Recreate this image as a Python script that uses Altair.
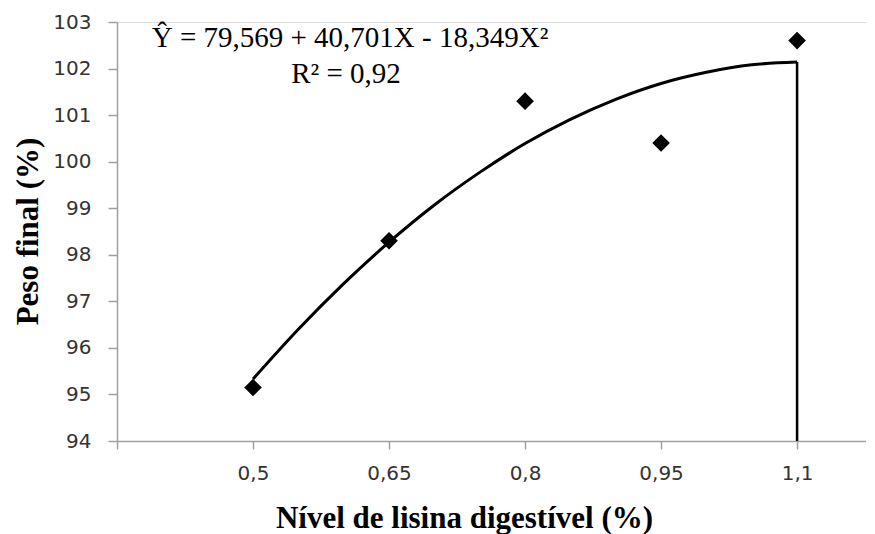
import altair as alt
import pandas as pd

# observed points
lys = [0.5, 0.65, 0.8, 0.95, 1.1]
peso = [95.15, 98.3, 101.3, 100.4, 102.6]

# fitted curve
curve_x = [0.5, 0.55, 0.6, 0.65, 0.7, 0.75, 0.8, 0.85, 0.9, 0.95, 1.0, 1.05, 1.1]
curve_y = [95.33, 96.40, 97.38, 98.27, 99.07, 99.77, 100.39, 100.91, 101.34, 101.68, 101.92, 102.08, 102.14]

# vertical drop line at the maximum
drop_x = [1.1]
drop_y0 = [94.0]
drop_y1 = [102.14]

x_ticks = [0.35, 0.5, 0.65, 0.8, 0.95, 1.1]
y_ticks = [94, 95, 96, 97, 98, 99, 100, 101, 102, 103]

eq_line1 = "Ŷ = 79,569  + 40,701X  - 18,349X²"
eq_line2 = "R² = 0,92"

pts = pd.DataFrame({"x": lys, "y": peso})
cur = pd.DataFrame({"x": curve_x, "y": curve_y})
drop = pd.DataFrame({"x": drop_x, "y": drop_y0, "y2": drop_y1})

AX = "#A0A0A0"
LBL = "#333333"
LFONT = "DejaVu Sans"

xs = alt.Scale(domain=[0.35, 1.176], nice=False, zero=False)
ys = alt.Scale(domain=[94, 103], nice=False, zero=False)

xaxis = alt.Axis(
    values=x_ticks, format=".2~f",
    labelExpr="datum.value < 0.4 ? '' : replace(datum.label, '.', ',')",
    grid=False, domainColor=AX, domainWidth=1.5, tickColor=AX, tickWidth=1.5,
    tickSize=8, labelFont=LFONT, labelFontSize=20, labelColor=LBL,
    labelPadding=14, labelFlush=False,
    title="Nível de lisina digestível (%)", titleFont="Liberation Serif",
    titleFontSize=31, titleFontWeight="bold", titleColor="black",
    titleX=347, titleY=86, titleAlign="center", titleBaseline="alphabetic",
    titleAnchor="start",
)
yaxis = alt.Axis(
    values=y_ticks, format="d",
    grid=False, domainColor=AX, domainWidth=1.5, tickColor=AX, tickWidth=1.5,
    tickSize=9, labelFont=LFONT, labelFontSize=20, labelColor=LBL,
    labelPadding=17, labelFlush=False,
    title="Peso final (%)", titleFont="Liberation Serif",
    titleFontSize=31, titleFontWeight="bold", titleColor="black",
    titleAngle=270, titleX=-80, titleY=209, titleAlign="center",
    titleBaseline="alphabetic", titleAnchor="start",
)

line = alt.Chart(cur).mark_line(color="black", strokeWidth=3,
                                interpolate="monotone").encode(
    x=alt.X("x:Q", scale=xs, axis=xaxis),
    y=alt.Y("y:Q", scale=ys, axis=yaxis),
)
rule = alt.Chart(drop).mark_rule(color="black", strokeWidth=2.5).encode(
    x="x:Q", y="y:Q", y2="y2:Q"
)
points = alt.Chart(pts).mark_point(shape="diamond", filled=True, color="black",
                                   size=310, opacity=1).encode(
    x="x:Q", y="y:Q"
)
t1 = alt.Chart(pd.DataFrame({"t": [eq_line1]})).mark_text(
    font="Liberation Serif", fontSize=29, color="black", align="center",
    baseline="alphabetic"
).encode(x=alt.value(233), y=alt.value(25), text="t:N")
t2 = alt.Chart(pd.DataFrame({"t": [eq_line2]})).mark_text(
    font="Liberation Serif", fontSize=29, color="black", align="center",
    baseline="alphabetic"
).encode(x=alt.value(229), y=alt.value(61), text="t:N")

chart = alt.layer(line, rule, points, t1, t2).properties(
    width=749, height=419,
    autosize=alt.AutoSizeParams(type="none"),
    padding={"left": 109, "top": 14, "right": 0, "bottom": 100},
).configure_view(stroke=None).configure(background="white")

chart.save("out.html", embed_options={"renderer": "svg", "actions": False})
